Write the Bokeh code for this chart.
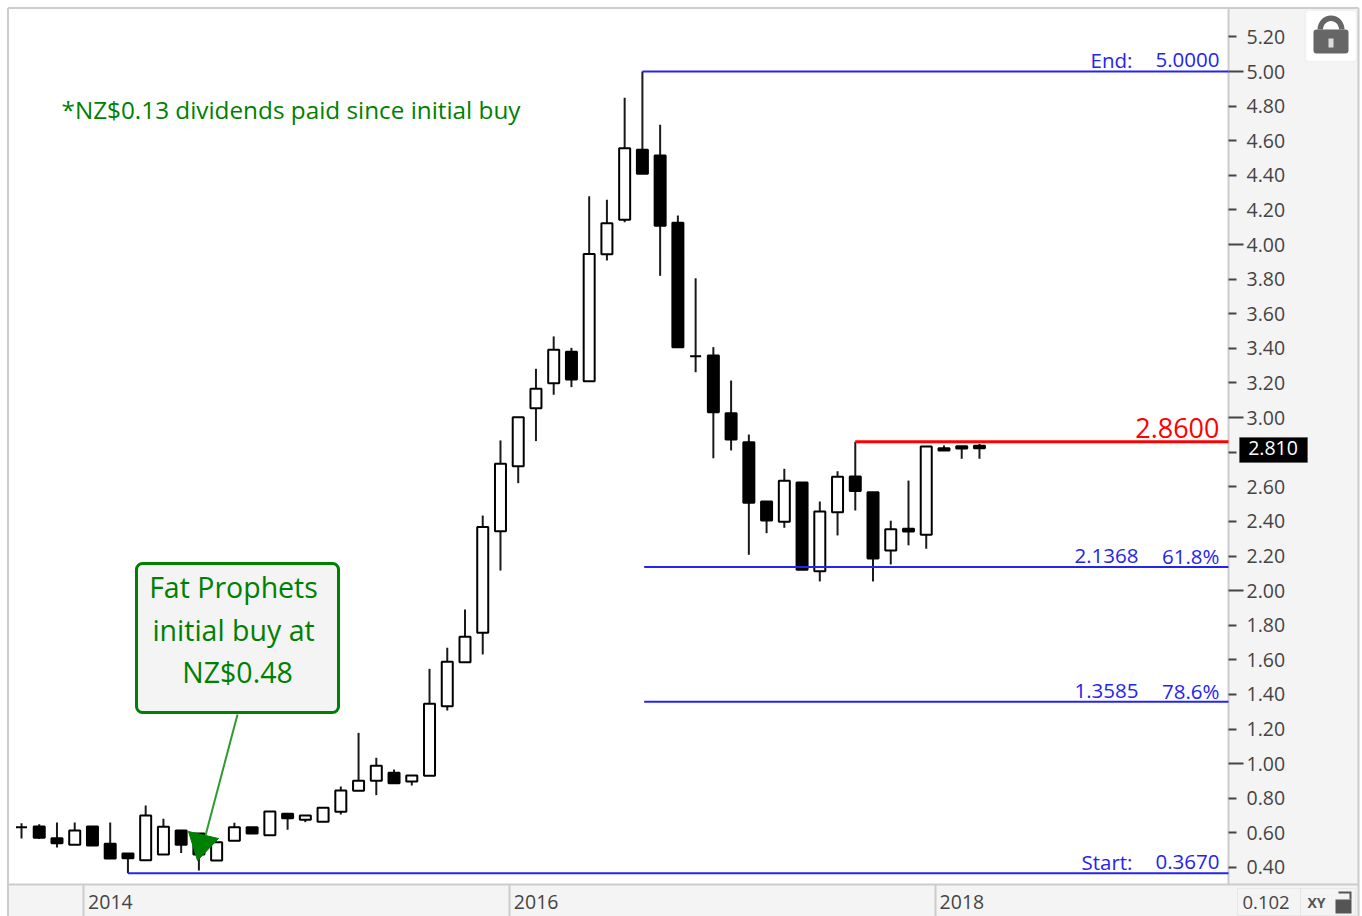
from bokeh.plotting import figure
from bokeh.embed import file_html
from bokeh.resources import INLINE
from bokeh.models import Range1d, LinearAxis, FixedTicker, Label, BoxAnnotation, PolyAnnotation, ColumnDataSource
import math

# --- monthly candles, Sep 2013 .. Mar 2018 (price, NZ$)
opens = [.632,.637,.569,.531,.637,.537,.481,.442,.475,.614,.596,.440,.554,.633,.587,.710,.676,.664,.722,.843,.901,.947,.897,.930,
         1.332,1.586,1.756,2.343,2.719,3.054,3.199,3.380,3.210,3.944,4.143,4.548,4.515,4.126,3.355,3.359,3.025,2.858,2.515,2.398,2.625,2.112,
         2.453,2.660,2.569,2.232,2.357,2.323,2.823,2.835,2.837]
closes = [.632,.572,.540,.614,.527,.452,.454,.700,.635,.531,.475,.546,.633,.596,.724,.685,.700,.745,.845,.901,.988,.887,.932,1.346,
          1.589,1.733,2.367,2.733,3.002,3.166,3.392,3.220,3.946,4.123,4.557,4.409,4.108,3.407,3.355,3.031,2.873,2.508,2.405,2.635,2.120,2.457,
          2.658,2.575,2.186,2.355,2.342,2.833,2.810,2.821,2.823]
highs = [.655,.650,.660,.660,.637,.660,.481,.758,.681,.614,.596,.546,.658,.633,.724,.710,.700,.745,.868,1.178,1.034,.966,.932,1.548,
         1.670,1.891,2.434,2.868,3.002,3.282,3.469,3.403,4.279,4.259,4.848,5.000,4.692,4.168,3.805,3.407,3.214,2.902,2.515,2.704,2.625,2.515,
         2.690,2.860,2.569,2.404,2.636,2.833,2.839,2.835,2.848]
lows = [.568,.565,.515,.531,.527,.452,.367,.442,.475,.483,.383,.440,.554,.596,.587,.618,.662,.664,.706,.843,.818,.887,.874,.930,
        1.307,1.586,1.631,2.116,2.621,2.864,3.132,3.176,3.210,3.908,4.129,4.409,3.819,3.407,3.262,2.765,2.810,2.207,2.332,2.363,2.120,2.053,
        2.319,2.463,2.053,2.151,2.262,2.242,2.810,2.762,2.762]

y_ticks = [0.4,0.6,0.8,1.2,1.4,1.6,1.8,2.2,2.4,2.6,2.8,3.2,3.4,3.6,3.8,4.2,4.4,4.6,4.8,5.2]
y_ticks_whole = [1.0,2.0,3.0,4.0,5.0]
year_ticks = [3.5,27.5,51.5]
year_labels = ["2014","2016","2018"]

fib_levels = [0.367,2.1368,1.3585,5.0]
fib_start = [6,35.1,35.1,35]
fib_values = ["0.3670","61.8%","78.6%","5.0000"]
fib_names = ["Start:","2.1368","1.3585","End:"]
resistance = 2.86
resistance_start = 47
resistance_label = "2.8600"
last_price = "2.810"

GREEN = "#008000"
BLUE = "#2424f0"
FONT = "Open Sans"
TXT = "#444444"
PANEL = "#f4f4f4"
EDGE = "#cccccc"

# reference-pixel to data helpers, for annotations only
def X(px): return (px - 21) / 17.74
def Y(py): return 5 - (py - 71) * 0.005779
def T(py, size): return Y(py - 0.42 * size)   # text baseline position

W, H = 1362, 916
p = figure(width=W, height=H, output_backend="svg", toolbar_location=None,
           x_range=Range1d(X(0), X(W)), y_range=Range1d(Y(H), Y(0)),
           x_axis_location=None, y_axis_location=None,
           min_border=0, background_fill_color="white", border_fill_color="white")
p.grid.visible = False
p.outline_line_color = None

# panels behind the chart
p.quad(left=[X(1228), X(7.5)], right=[X(1358), X(1358)], top=[Y(7.5), Y(884)], bottom=[Y(916), Y(916)],
       fill_color=PANEL, line_color=None)
p.segment([X(7.5), X(7.5), X(1228), X(7.5), X(1358)], [Y(7.5), Y(7.5), Y(7.5), Y(884), Y(7.5)],
          [X(1358), X(7.5), X(1228), X(1358), X(1358)], [Y(7.5), Y(916), Y(884), Y(884), Y(916)],
          line_color=EDGE, line_width=2)

# y axes drawn at the plot edge
for ticks, tick_len, standoff in ((y_ticks, 8, 10), (y_ticks_whole, 15, 3)):
    ax = LinearAxis(ticker=FixedTicker(ticks=ticks), fixed_location=X(1228),
                    major_label_overrides={t: f"{t:.2f}" for t in ticks},
                    axis_line_color=None, major_tick_in=0, major_tick_out=tick_len,
                    major_tick_line_color="#444444", major_tick_line_width=2,
                    minor_tick_line_color=None, major_label_standoff=standoff,
                    major_label_text_font=FONT, major_label_text_font_size="19.5px",
                    major_label_text_color=TXT)
    p.add_layout(ax, "right")

xax = LinearAxis(ticker=FixedTicker(ticks=year_ticks), fixed_location=Y(884),
                 major_label_overrides={t: "" for t in year_ticks},
                 axis_line_color=None, major_tick_in=0, major_tick_out=32,
                 major_tick_line_color=EDGE, major_tick_line_width=2,
                 minor_tick_line_color=None)
p.add_layout(xax, "below")

# candles
idx = list(range(len(opens)))
src = ColumnDataSource(dict(x=idx, o=opens, c=closes, h=highs, l=lows,
                            top=[max(a, b) for a, b in zip(opens, closes)],
                            bot=[min(a, b) for a, b in zip(opens, closes)],
                            fill=["white" if c > o else "black" for o, c in zip(opens, closes)]))
p.segment("x", "h", "x", "l", source=src, line_color="#1a1a1a", line_width=2)
p.vbar("x", 0.62, "bot", "top", source=src, fill_color="fill", line_color="black", line_width=2)

# fib lines and labels
for lvl, s, v, n, base_px in zip(fib_levels, fib_start, fib_values, fib_names, (870, 564, 699, 68)):
    p.line([s, X(1228)], [lvl, lvl], line_color=BLUE, line_width=2)
    p.add_layout(Label(x=X(1219), y=T(base_px, 20.5), text=v, text_align="right", text_baseline="alphabetic",
                       text_font=FONT, text_font_size="20.5px", text_color=BLUE))
    p.add_layout(Label(x=X(1132 if lvl in (0.367, 5.0) else 1138), y=T(base_px, 20.5), text=n, text_align="right",
                       text_baseline="alphabetic", text_font=FONT, text_font_size="20.5px", text_color=BLUE))

p.line([resistance_start, X(1228)], [resistance, resistance], line_color="#ff0000", line_width=3)
p.add_layout(Label(x=X(1219), y=T(438.5, 27), text=resistance_label, text_align="right", text_baseline="alphabetic",
                   text_font=FONT, text_font_size="27px", text_color="#ff0000"))

# dividends note
p.add_layout(Label(x=X(61), y=T(119, 24.3), text="*NZ$0.13 dividends paid since initial buy", text_baseline="alphabetic",
                   text_font=FONT, text_font_size="24.3px", text_color=GREEN))

# callout
p.segment([X(237)], [Y(714)], [X(205)], [Y(835)], line_color="#2e9a2e", line_width=2)
p.patch([X(197), X(188), X(218)], [Y(860), Y(831), Y(838)], fill_color=GREEN, line_color=GREEN)
p.add_layout(BoxAnnotation(left=X(136), right=X(338), top=Y(563), bottom=Y(712), fill_color=PANEL, fill_alpha=1,
                           line_color=GREEN, line_width=3, line_alpha=1, border_radius=6))
for t, px, py in (("Fat Prophets", 233, 598), ("initial buy at", 233, 641), ("NZ$0.48", 237, 683)):
    p.add_layout(Label(x=X(px), y=T(py, 28.5), text=t, text_align="center", text_baseline="alphabetic",
                       text_font=FONT, text_font_size="28.5px", text_color=GREEN))

# year labels
for t, lab in zip(year_ticks, year_labels):
    p.add_layout(Label(x=t, x_offset=4.5, y=T(910, 19.5), text=lab, text_baseline="alphabetic",
                       text_font=FONT, text_font_size="19.5px", text_color=TXT))

# last price tag
p.add_layout(BoxAnnotation(left=X(1239), right=X(1307), top=Y(437), bottom=Y(462), fill_color="black", fill_alpha=1, line_color="#333333"))
p.add_layout(Label(x=X(1272.5), y=T(456, 19.5), text=last_price, text_align="center", text_baseline="alphabetic",
                   text_font=FONT, text_font_size="19.5px", text_color="white"))

# lock button
p.add_layout(BoxAnnotation(left=X(1305), right=X(1356), top=Y(10), bottom=Y(61), fill_color="white", fill_alpha=1,
                           line_color="#dddddd", line_width=1.5, border_radius=3))
arc = [i * math.pi / 16 for i in range(17)]
ring_x = [1330.5 + 13.5 * math.cos(a) for a in arc] + [1330.5 + 8 * math.cos(a) for a in reversed(arc)]
ring_y = [29 - 14 * math.sin(a) for a in arc] + [29 - 8.5 * math.sin(a) for a in reversed(arc)]
p.add_layout(PolyAnnotation(xs=[X(v) for v in ring_x], ys=[Y(v) for v in ring_y], fill_color="#666666", fill_alpha=1, line_color=None))
p.add_layout(BoxAnnotation(left=X(1313), right=X(1348), top=Y(29), bottom=Y(53), fill_color="#666666", fill_alpha=1, line_color=None, border_radius=3))
p.add_layout(BoxAnnotation(left=X(1328), right=X(1333), top=Y(38), bottom=Y(47), fill_color="#dddddd", fill_alpha=1, line_color=None))

# bottom-right controls
p.add_layout(BoxAnnotation(left=X(1237), right=X(1300), top=Y(888), bottom=Y(915), fill_color=PANEL, fill_alpha=1, line_color=EDGE))
p.add_layout(BoxAnnotation(left=X(1300), right=X(1355), top=Y(888), bottom=Y(915), fill_color=PANEL, fill_alpha=1, line_color=EDGE))
p.add_layout(Label(x=X(1242), y=T(909.5, 18.5), text="0.102", text_baseline="alphabetic", text_font=FONT, text_font_size="18.5px", text_color=TXT))
p.add_layout(Label(x=X(1307), y=T(908, 14), text="XY", text_baseline="alphabetic", text_font=FONT, text_font_size="14px",
                   text_font_style="bold", text_color="#555555"))
p.add_layout(BoxAnnotation(left=X(1335), right=X(1351), top=Y(899), bottom=Y(913), fill_color="#555555", fill_alpha=1, line_color=None))
p.add_layout(PolyAnnotation(xs=[X(v) for v in (1338, 1351, 1351, 1349, 1349, 1338)], ys=[Y(v) for v in (891, 891, 899, 899, 893, 893)],
                            fill_color="#555555", fill_alpha=1, line_color=None))

open("out.html", "w").write(file_html(p, INLINE))
